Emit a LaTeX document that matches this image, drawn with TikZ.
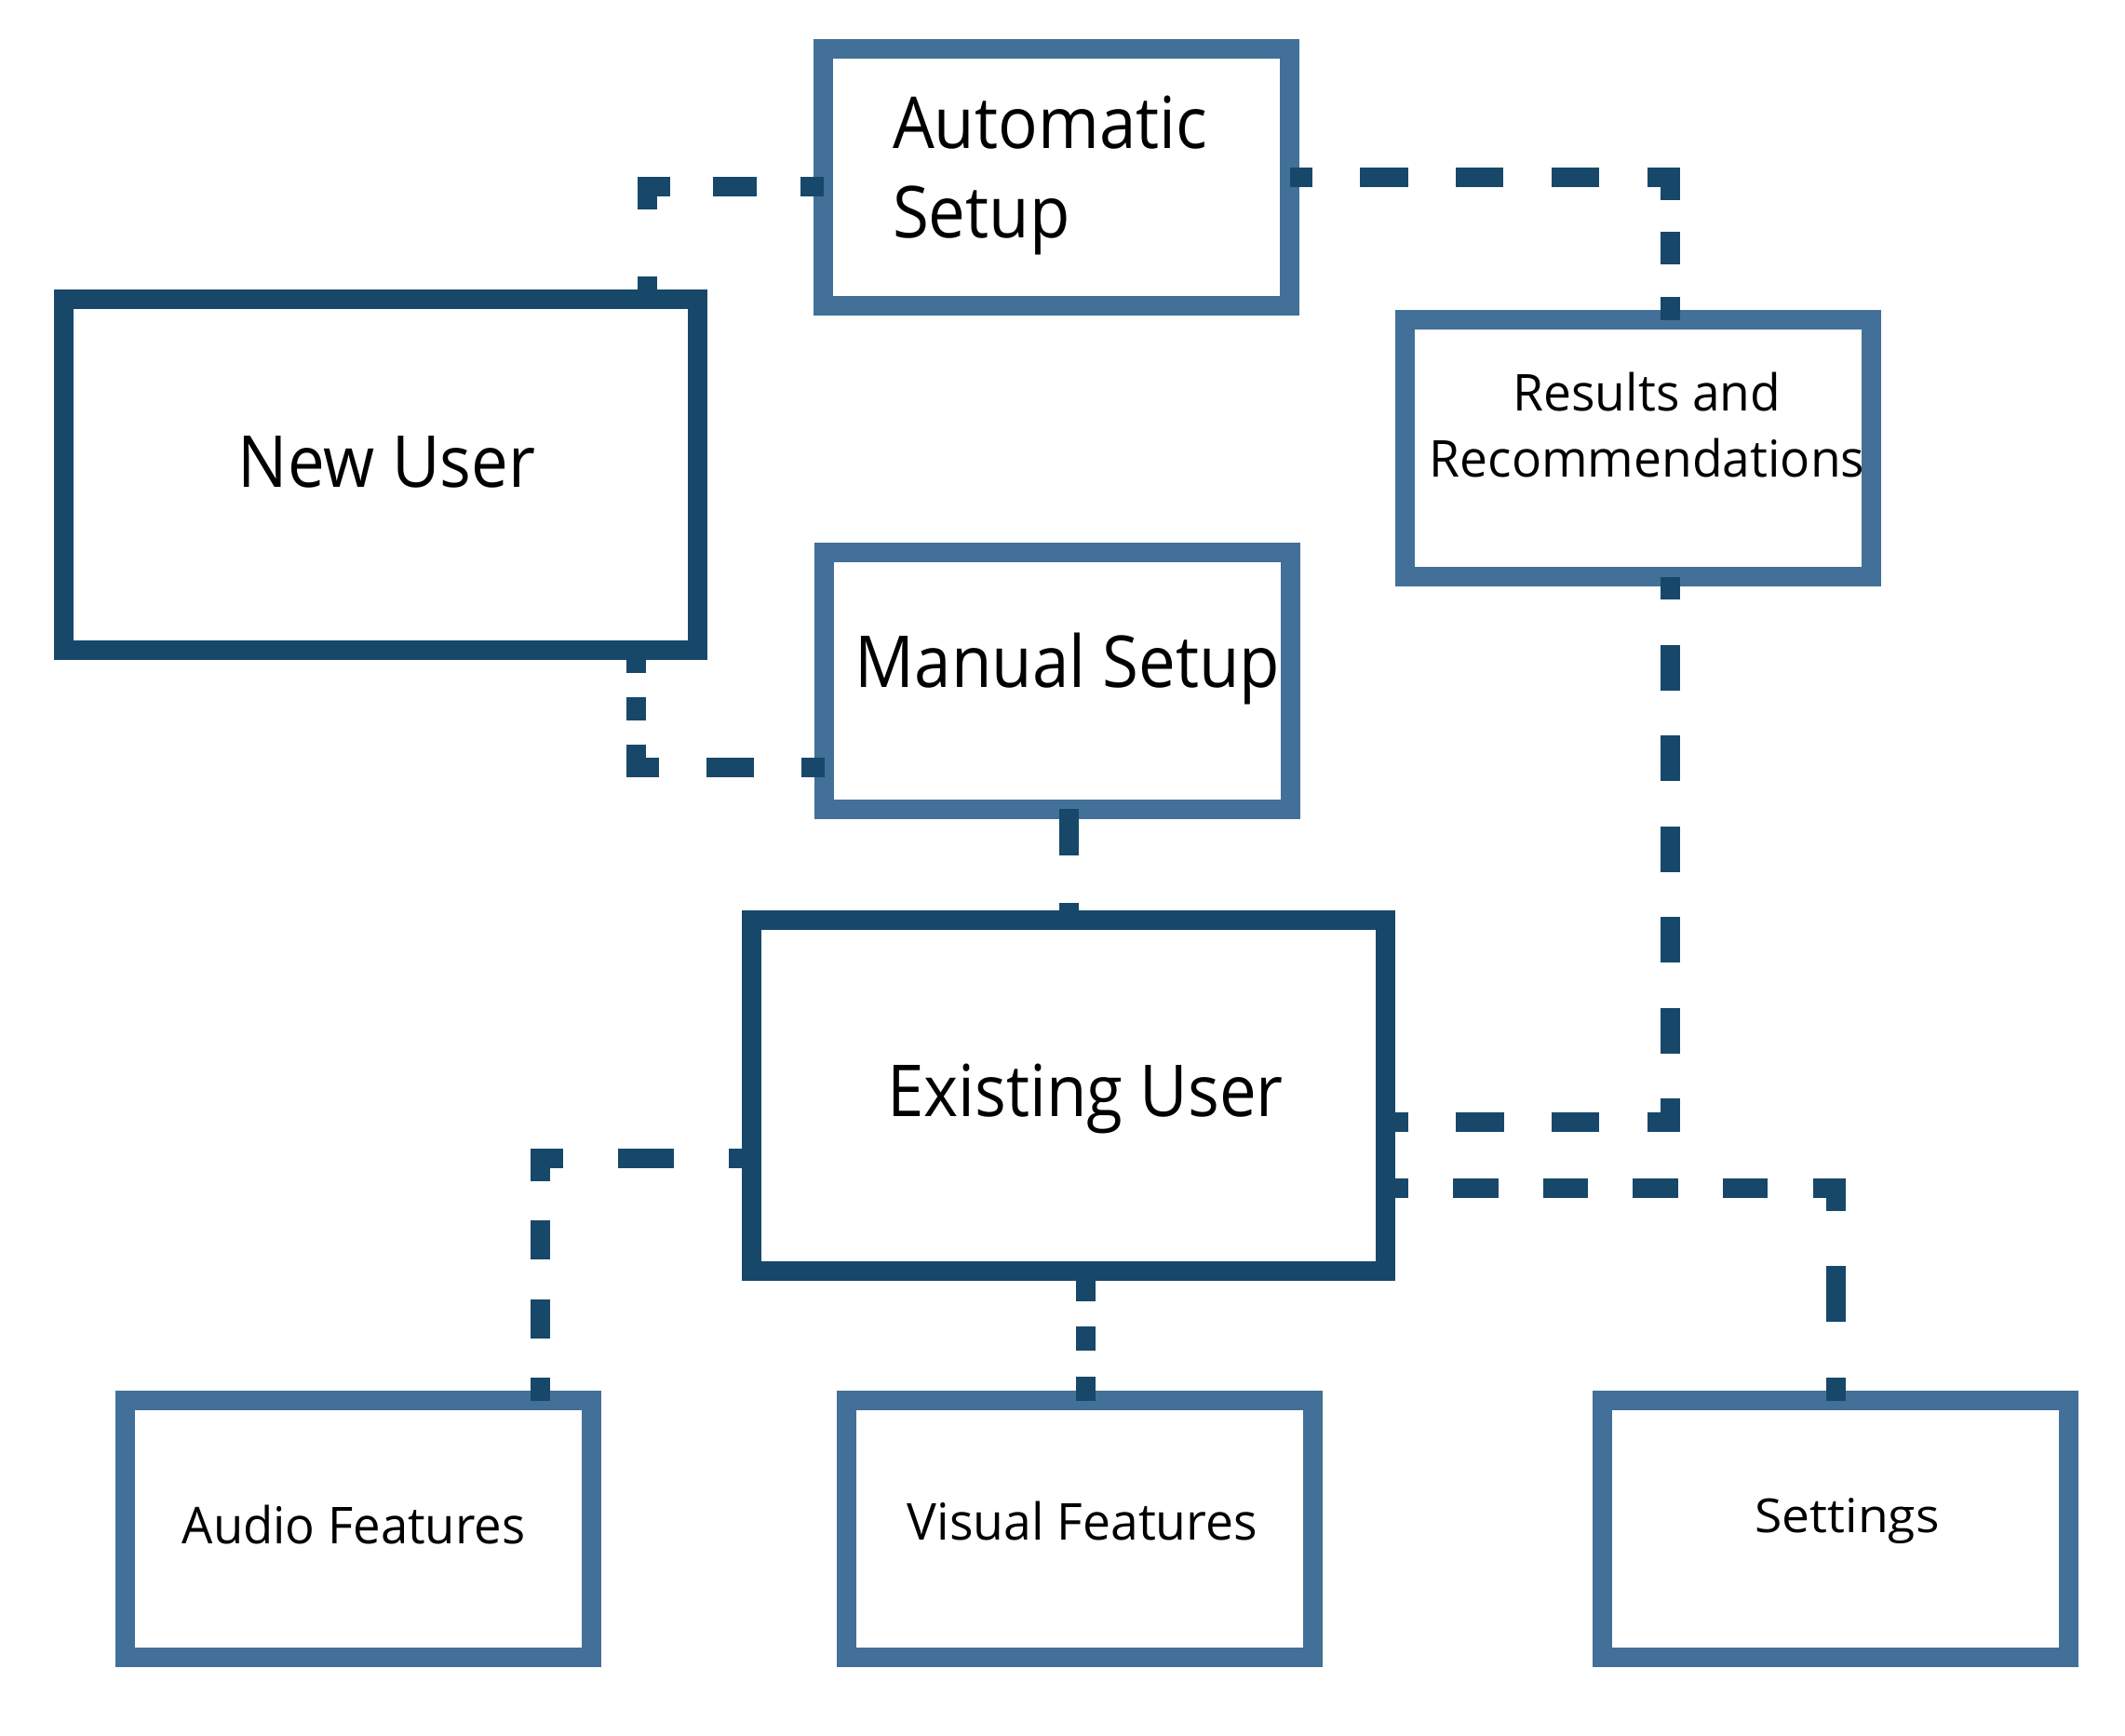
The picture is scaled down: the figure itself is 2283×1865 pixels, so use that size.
\documentclass[tikz,border=0pt]{standalone}
\usepackage{fontspec}
\newfontfamily\bigfont{Open Sans}[FakeStretch=0.92]
\newfontfamily\recfont{Open Sans}[FakeStretch=0.977]
\newfontfamily\audfont{Open Sans}[FakeStretch=0.964]
\newfontfamily\visfont{Open Sans}[FakeStretch=0.98]
\newfontfamily\settingsfont{Open Sans}[FakeStretch=1.06]
\definecolor{darkblue}{HTML}{17486A}
\definecolor{lightblue}{HTML}{427098}
\begin{document}
\begin{tikzpicture}[x=1pt,y=-1pt,
  darkbox/.style={draw=darkblue, line width=21pt, rectangle, inner sep=0pt, outer sep=0pt, minimum width=681pt, minimum height=377pt},
  lightbox/.style={draw=lightblue, line width=21pt, rectangle, inner sep=0pt, outer sep=0pt, minimum width=501pt, minimum height=276pt},
  bigtext/.style={font=\bigfont\fontsize{77}{96.4}\selectfont, inner sep=0pt, outer sep=0pt, text=black},
  smalltext/.style={inner sep=0pt, outer sep=0pt, text=black},
  link/.style={draw=darkblue, line width=21pt, line join=miter, line cap=butt}]
\useasboundingbox[fill=white] (0,0) rectangle (2283,1865);
% boxes
\node[darkbox] (nu) at (409,510) {};
\node[lightbox] (auto) at (1135,190.5) {};
\node[lightbox] (man) at (1136,731) {};
\node[lightbox] (res) at (1759.5,481.5) {};
\node[darkbox] (ex) at (1148,1176.5) {};
\node[lightbox] (aud) at (385,1642.5) {};
\node[lightbox] (vis) at (1159.5,1642.5) {};
\node[lightbox] (set) at (1972,1642.5) {};
% texts
\node[bigtext, anchor=base] (nut) at (415.5,523) {New User};
\node[bigtext, anchor=base west, align=left] (autot) at (959,255.7) {Automatic\\Setup};
\node[bigtext, anchor=base] (mant) at (1147,738) {Manual Setup};
\node[smalltext, font=\recfont\fontsize{54.6}{71}\selectfont, anchor=base, align=center] (rest) at (1769.5,512.7) {Results and\\Recommendations};
\node[bigtext, anchor=base] (ext) at (1166,1199.5) {Existing User};
\node[smalltext, font=\audfont\fontsize{54.6}{66}\selectfont, anchor=base] (audt) at (380,1658) {Audio Features};
\node[smalltext, font=\visfont\fontsize{54.6}{66}\selectfont, anchor=base] (vist) at (1163,1654) {Visual Features};
\node[smalltext, font=\settingsfont\fontsize{50.4}{62}\selectfont, anchor=base] (sett) at (1984.5,1646) {Settings};
% connectors
\coordinate (c1) at (695,200);
\draw[link, dash pattern=on 24.5pt off 72.5pt on 49pt off 46.83pt on 46.83pt off 46.83pt on 40pt off 400pt]
  (c1 |- nu.north) -- (c1) -- (c1 -| auto.west);
\coordinate (c2) at (683.5,824);
\draw[link, dash pattern=on 24.5pt off 25.5pt on 25.5pt off 25.5pt on 49pt off 51pt on 51pt off 51pt on 40pt off 400pt]
  (c2 |- nu.south) -- (c2) -- (c2 -| man.west);
\coordinate (c3) at (1794,190);
\draw[link, dash pattern=on 24.5pt off 51.36pt on 51.36pt off 51.36pt on 51.36pt off 51.36pt on 51.36pt off 51.36pt on 49pt off 34.83pt on 34.83pt off 34.83pt on 40pt off 400pt]
  (c3 -| auto.east) -- (c3) -- (c3 |- res.north);
\coordinate (m4) at ([xshift=12pt]man.south);
\draw[link, dash pattern=on 50pt off 50.5pt on 40pt off 400pt]
  (m4) -- (m4 |- ex.north);
\coordinate (c5) at (1794,1205);
\draw[link, dash pattern=on 24.5pt off 48.77pt on 48.77pt off 48.77pt on 48.77pt off 48.77pt on 48.77pt off 48.77pt on 48.77pt off 48.77pt on 48.77pt off 48.77pt on 49pt off 51.3pt on 51.3pt off 51.3pt on 51.3pt off 51.3pt on 40pt off 400pt]
  (c5 |- res.south) -- (c5) -- (c5 -| ex.east);
\coordinate (c6) at (1972,1276);
\draw[link, dash pattern=on 24.5pt off 48.28pt on 48.28pt off 48.28pt on 48.28pt off 48.28pt on 48.28pt off 48.28pt on 48.28pt off 48.28pt on 49pt off 59.83pt on 59.83pt off 59.83pt on 40pt off 400pt]
  (c6 -| ex.east) -- (c6) -- (c6 |- set.north);
\coordinate (c7) at (580,1244.5);
\draw[link, dash pattern=on 24.5pt off 59.5pt on 59.5pt off 59.5pt on 49pt off 42.2pt on 42.2pt off 42.2pt on 42.2pt off 42.2pt on 40pt off 400pt]
  (c7 -| ex.west) -- (c7) -- (c7 |- aud.north);
\coordinate (m8) at ([xshift=18.5pt]ex.south);
\draw[link, dash pattern=on 33pt off 27pt on 26pt off 28pt on 40pt off 400pt]
  (m8) -- (m8 |- vis.north);
\end{tikzpicture}
\end{document}
